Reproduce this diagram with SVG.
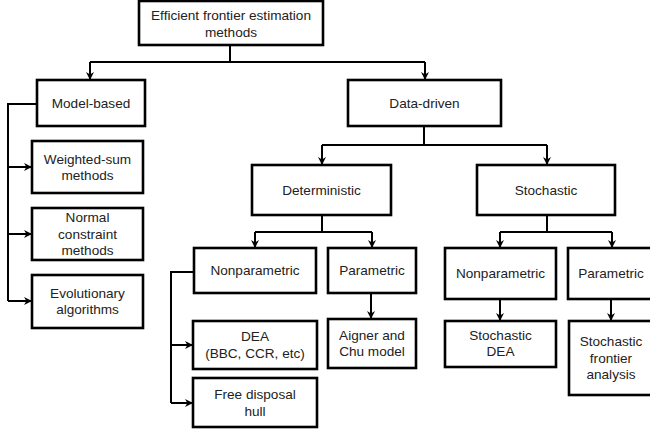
<svg xmlns="http://www.w3.org/2000/svg" width="650" height="433" viewBox="0 0 650 433">
<style>
.box{fill:#fff;stroke:#000;stroke-width:2.6}
.t{font-family:"Liberation Sans",Arial,sans-serif;font-size:13.6px;fill:#222;text-anchor:middle}
.c{fill:none;stroke:#000;stroke-width:2}
</style>
<defs>
<marker id="ah" viewBox="0 0 10 10" refX="10" refY="5" markerWidth="8" markerHeight="8" markerUnits="userSpaceOnUse" orient="auto">
<path d="M0,0 L10,5 L0,10 L3,5 z" fill="#000"/>
</marker>
</defs>
<rect width="650" height="433" fill="#fff"/>
<g id="connectors">
<path class="c" d="M230,45 V62 M90,62 H425"/>
<path class="c" d="M90,62 V80" marker-end="url(#ah)"/>
<path class="c" d="M425,62 V80" marker-end="url(#ah)"/>
<path class="c" d="M37,104 H8 V301"/>
<path class="c" d="M8,167 H32" marker-end="url(#ah)"/>
<path class="c" d="M8,234 H32" marker-end="url(#ah)"/>
<path class="c" d="M8,301 H32" marker-end="url(#ah)"/>
<path class="c" d="M424,126 V145 M322,145 H547"/>
<path class="c" d="M322,145 V165" marker-end="url(#ah)"/>
<path class="c" d="M547,145 V165" marker-end="url(#ah)"/>
<path class="c" d="M322,215 V232 M255,232 H372"/>
<path class="c" d="M255,232 V248" marker-end="url(#ah)"/>
<path class="c" d="M372,232 V248" marker-end="url(#ah)"/>
<path class="c" d="M547,215 V232 M500,232 H612"/>
<path class="c" d="M500,232 V248" marker-end="url(#ah)"/>
<path class="c" d="M612,232 V248" marker-end="url(#ah)"/>
<path class="c" d="M194,272 H171 V403"/>
<path class="c" d="M171,345 H193" marker-end="url(#ah)"/>
<path class="c" d="M171,403 H193" marker-end="url(#ah)"/>
<path class="c" d="M371,293 V319" marker-end="url(#ah)"/>
<path class="c" d="M500,299 V321" marker-end="url(#ah)"/>
<path class="c" d="M611,299 V321" marker-end="url(#ah)"/>
</g>
<g id="root"><rect class="box" x="139" y="1" width="184" height="44"/><text class="t" x="231" y="20">Efficient frontier estimation</text><text class="t" x="231" y="36.5">methods</text></g>
<g id="model-based"><rect class="box" x="37" y="80" width="108" height="46"/><text class="t" x="91" y="108">Model-based</text></g>
<g id="data-driven"><rect class="box" x="348" y="80" width="153" height="46"/><text class="t" x="424.5" y="108">Data-driven</text></g>
<g id="weighted-sum"><rect class="box" x="32" y="141" width="111" height="52"/><text class="t" x="87.5" y="163.5">Weighted-sum</text><text class="t" x="87.5" y="180">methods</text></g>
<g id="normal-constraint"><rect class="box" x="32" y="208" width="111" height="52"/><text class="t" x="87.5" y="222">Normal</text><text class="t" x="87.5" y="238.7">constraint</text><text class="t" x="87.5" y="255.4">methods</text></g>
<g id="evolutionary"><rect class="box" x="32" y="275" width="111" height="53"/><text class="t" x="87.5" y="297.5">Evolutionary</text><text class="t" x="87.5" y="314">algorithms</text></g>
<g id="deterministic"><rect class="box" x="252" y="165" width="139" height="50"/><text class="t" x="321.5" y="194.7">Deterministic</text></g>
<g id="stochastic"><rect class="box" x="477" y="165" width="138" height="50"/><text class="t" x="546" y="194.7">Stochastic</text></g>
<g id="det-nonparametric"><rect class="box" x="194" y="248" width="122" height="45"/><text class="t" x="255" y="275">Nonparametric</text></g>
<g id="det-parametric"><rect class="box" x="328" y="248" width="88" height="45"/><text class="t" x="372" y="275">Parametric</text></g>
<g id="sto-nonparametric"><rect class="box" x="445" y="248" width="111" height="51"/><text class="t" x="500.5" y="278">Nonparametric</text></g>
<g id="sto-parametric"><rect class="box" x="568" y="248" width="90" height="51"/><text class="t" x="611" y="278">Parametric</text></g>
<g id="dea"><rect class="box" x="193" y="321" width="124" height="48"/><text class="t" x="255" y="341.4">DEA</text><text class="t" x="255" y="358">(BBC, CCR, etc)</text></g>
<g id="fdh"><rect class="box" x="193" y="378" width="124" height="49"/><text class="t" x="255" y="398.9">Free disposal</text><text class="t" x="255" y="415.6">hull</text></g>
<g id="aigner-chu"><rect class="box" x="328" y="319" width="88" height="49"/><text class="t" x="372" y="339.5">Aigner and</text><text class="t" x="372" y="356">Chu model</text></g>
<g id="stochastic-dea"><rect class="box" x="445" y="321" width="111" height="46"/><text class="t" x="500.5" y="339.5">Stochastic</text><text class="t" x="500.5" y="356">DEA</text></g>
<g id="sfa"><rect class="box" x="569" y="321" width="90" height="74"/><text class="t" x="611" y="346">Stochastic</text><text class="t" x="611" y="362.7">frontier</text><text class="t" x="611" y="379.4">analysis</text></g>
</svg>
